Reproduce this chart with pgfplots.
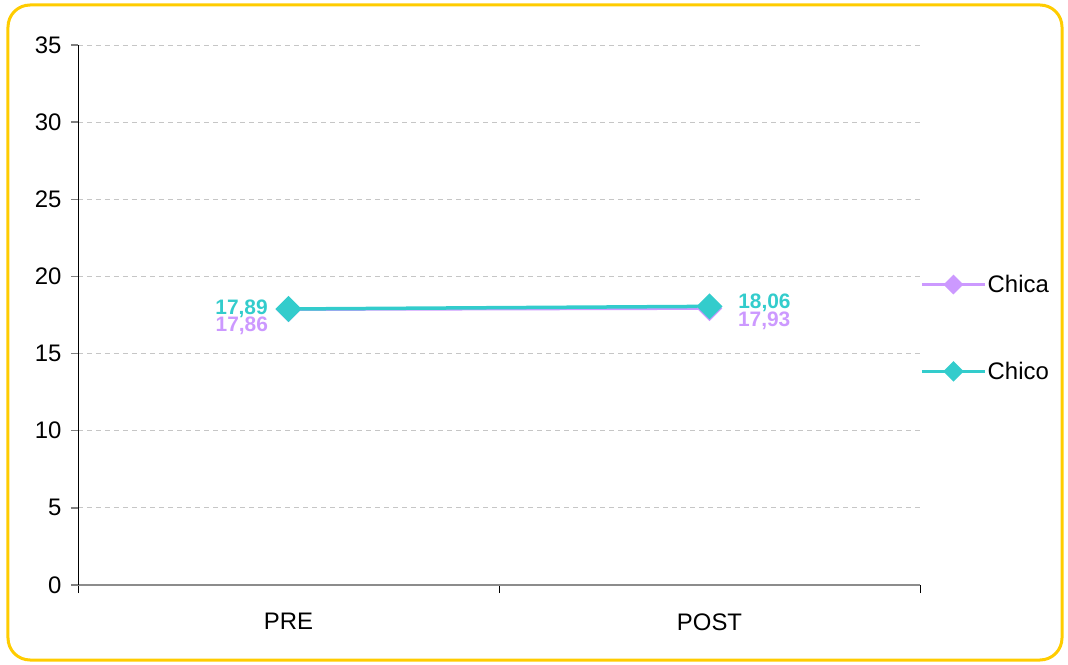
\documentclass[border=0pt]{standalone}
\usepackage{fontspec}
\setmainfont{Liberation Sans}
\usepackage{pgfplots}
\pgfplotsset{compat=1.18}
\definecolor{chica}{HTML}{CC99FF}
\definecolor{chico}{HTML}{33CCCC}
\definecolor{gold}{HTML}{FFCC00}
\begin{document}
\begin{tikzpicture}
\useasboundingbox (-78bp,-80bp) rectangle (990bp,585bp);
\begin{axis}[
  scale only axis, width=842bp, height=540bp,
  xmin=-0.5, xmax=1.5, ymin=0, ymax=35,
  axis x line*=bottom, axis y line*=left,
  x axis line style={draw=gray!90, line width=2bp},
  y axis line style={draw=black, line width=0.8bp},
  xtick={0,1}, xticklabels={PRE,POST},
  xtick style={draw=none},
  minor xtick={-0.5,0.5,1.5},
  minor x tick style={draw=black, line width=0.8bp},
  minor tick length=8bp,
  ytick={0,5,...,35},
  ytick style={draw=gray, line width=1.5bp},
  major tick length=7bp,
  tick align=outside,
  ymajorgrids,
  major grid style={draw=gray!45, dashed, line width=0.8bp, dash pattern=on 5bp off 4bp},
  tick label style={font=\fontsize{24}{24}\selectfont},
  /pgf/number format/assume math mode=true,
  xticklabel style={yshift=-18bp},
  yticklabel style={xshift=-6bp},
  legend style={at={(1,0.476)}, anchor=west, draw=none, fill=none,
    font=\fontsize{24}{24}\selectfont, row sep=64bp, inner sep=0pt,
    nodes={inner xsep=1bp},
    legend cell align=left},
  legend image code/.code={
    \draw[#1, mark size=5.5bp, mark repeat=2, mark phase=2] plot coordinates {(0bp,0bp) (31.5bp,0bp) (63bp,0bp)};
  },
  every node near coord/.append style={inner sep=0pt, font=\bfseries\fontsize{21}{21}\selectfont},
  nodes near coords={\pgfmathprintnumber[use comma,fixed,fixed zerofill,precision=2]{\pgfplotspointmeta}},
]
\addplot[chica, line width=3bp, mark=square*, mark size=7.5bp,
  mark options={rotate=45, solid},
  every node near coord/.append style={text=chica},
  coordinate style/.condition={x<0.5}{anchor=east, xshift=-19bp, yshift=-16bp},
  coordinate style/.condition={x>0.5}{anchor=west, xshift=27bp, yshift=-12bp},
] coordinates {(0,17.86) (1,17.93)};
\addlegendentry{Chica}
\addplot[chico, line width=3.5bp, mark=square*, mark size=7.5bp,
  mark options={rotate=45, solid},
  every node near coord/.append style={text=chico},
  coordinate style/.condition={x<0.5}{anchor=east, xshift=-19bp, yshift=0bp},
  coordinate style/.condition={x>0.5}{anchor=west, xshift=27bp, yshift=4bp},
] coordinates {(0,17.89) (1,18.06)};
\addlegendentry{Chico}
\end{axis}
\draw[gold, line width=3bp, rounded corners=22bp] (-70bp,-75bp) rectangle (984bp,580bp);
\end{tikzpicture}
\end{document}
